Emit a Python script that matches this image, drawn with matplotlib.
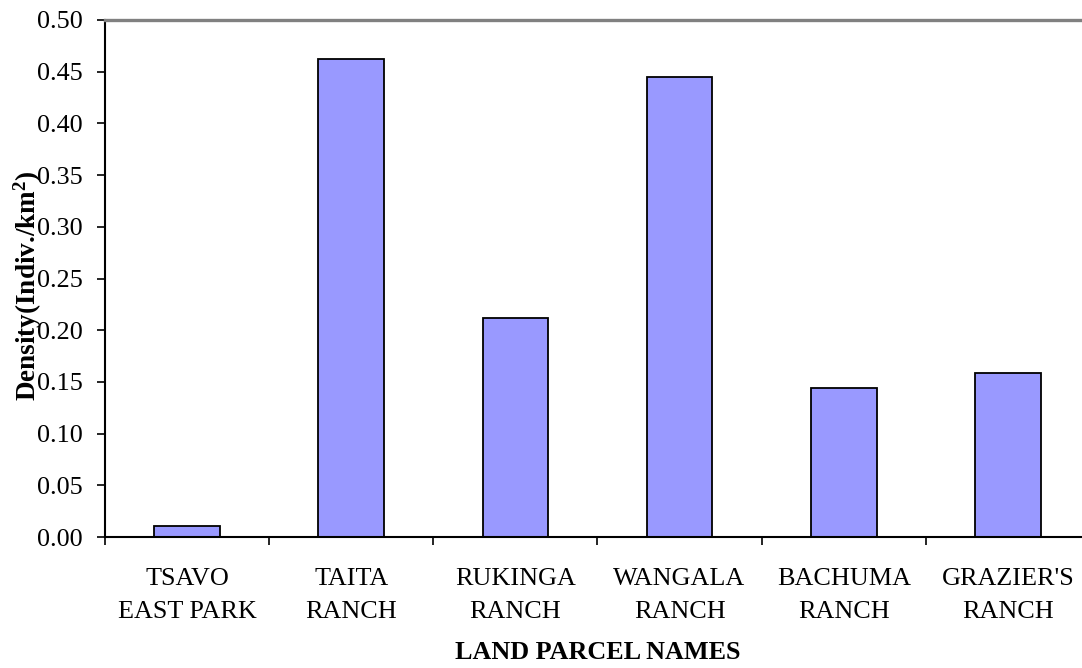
import matplotlib.pyplot as plt
import numpy as np

# Densities per land parcel
parcels = ["TSAVO\nEAST PARK", "TAITA\nRANCH", "RUKINGA\nRANCH",
           "WANGALA\nRANCH", "BACHUMA\nRANCH", "GRAZIER'S\nRANCH"]
density = [0.011, 0.462, 0.212, 0.445, 0.144, 0.159]
y_ticks = [0.00, 0.05, 0.10, 0.15, 0.20, 0.25, 0.30, 0.35, 0.40, 0.45, 0.50]

plt.rcParams['font.family'] = ['Liberation Serif', 'DejaVu Serif']
plt.rcParams['mathtext.fontset'] = 'custom'
plt.rcParams['mathtext.rm'] = 'Liberation Serif'
plt.rcParams['mathtext.bf'] = 'Liberation Serif:bold'
FS = 18.8

W, H = 1082, 668
fig = plt.figure(figsize=(W / 100, H / 100), dpi=100)
# plot area runs a little past the right edge of the figure
ax = fig.add_axes([105 / W, (H - 537) / H, (1090 - 105) / W, (537 - 20) / H])

x = np.arange(len(parcels))
ax.bar(x, density, width=0.4, color="#9999FF", edgecolor="black", linewidth=1.3, zorder=2)

ax.set_xlim(-0.5, len(parcels) - 0.5)
ax.set_ylim(0, 0.5)
ax.set_yticks(y_ticks)
ax.set_yticklabels([f"{v:.2f}" for v in y_ticks], fontsize=FS)
ax.tick_params(axis="y", direction="out", length=6, width=1.2, pad=10)

ax.set_xticks(x)
ax.set_xticklabels(parcels, fontsize=FS, linespacing=1.65)
ax.tick_params(axis="x", which="major", length=0, pad=22)
ax.set_xticks(np.arange(len(parcels) + 1) - 0.5, minor=True)
ax.tick_params(axis="x", which="minor", direction="out", length=6, width=1.2)

for side in ["left", "bottom"]:
    ax.spines[side].set_color("black")
    ax.spines[side].set_linewidth(1.5)
ax.spines["top"].set_color("#808080")
ax.spines["top"].set_linewidth(2.4)
ax.spines["right"].set_visible(False)

ax.set_xlabel("LAND PARCEL NAMES", fontsize=FS, fontweight="bold", labelpad=13)
fig.text(28 / W, 1 - 286 / H, r"Density(Indiv./km$\mathbf{^2}$)", fontsize=19.5,
         fontweight="bold", rotation=90, ha="center", va="center")

fig.savefig("out.png", dpi=100)
